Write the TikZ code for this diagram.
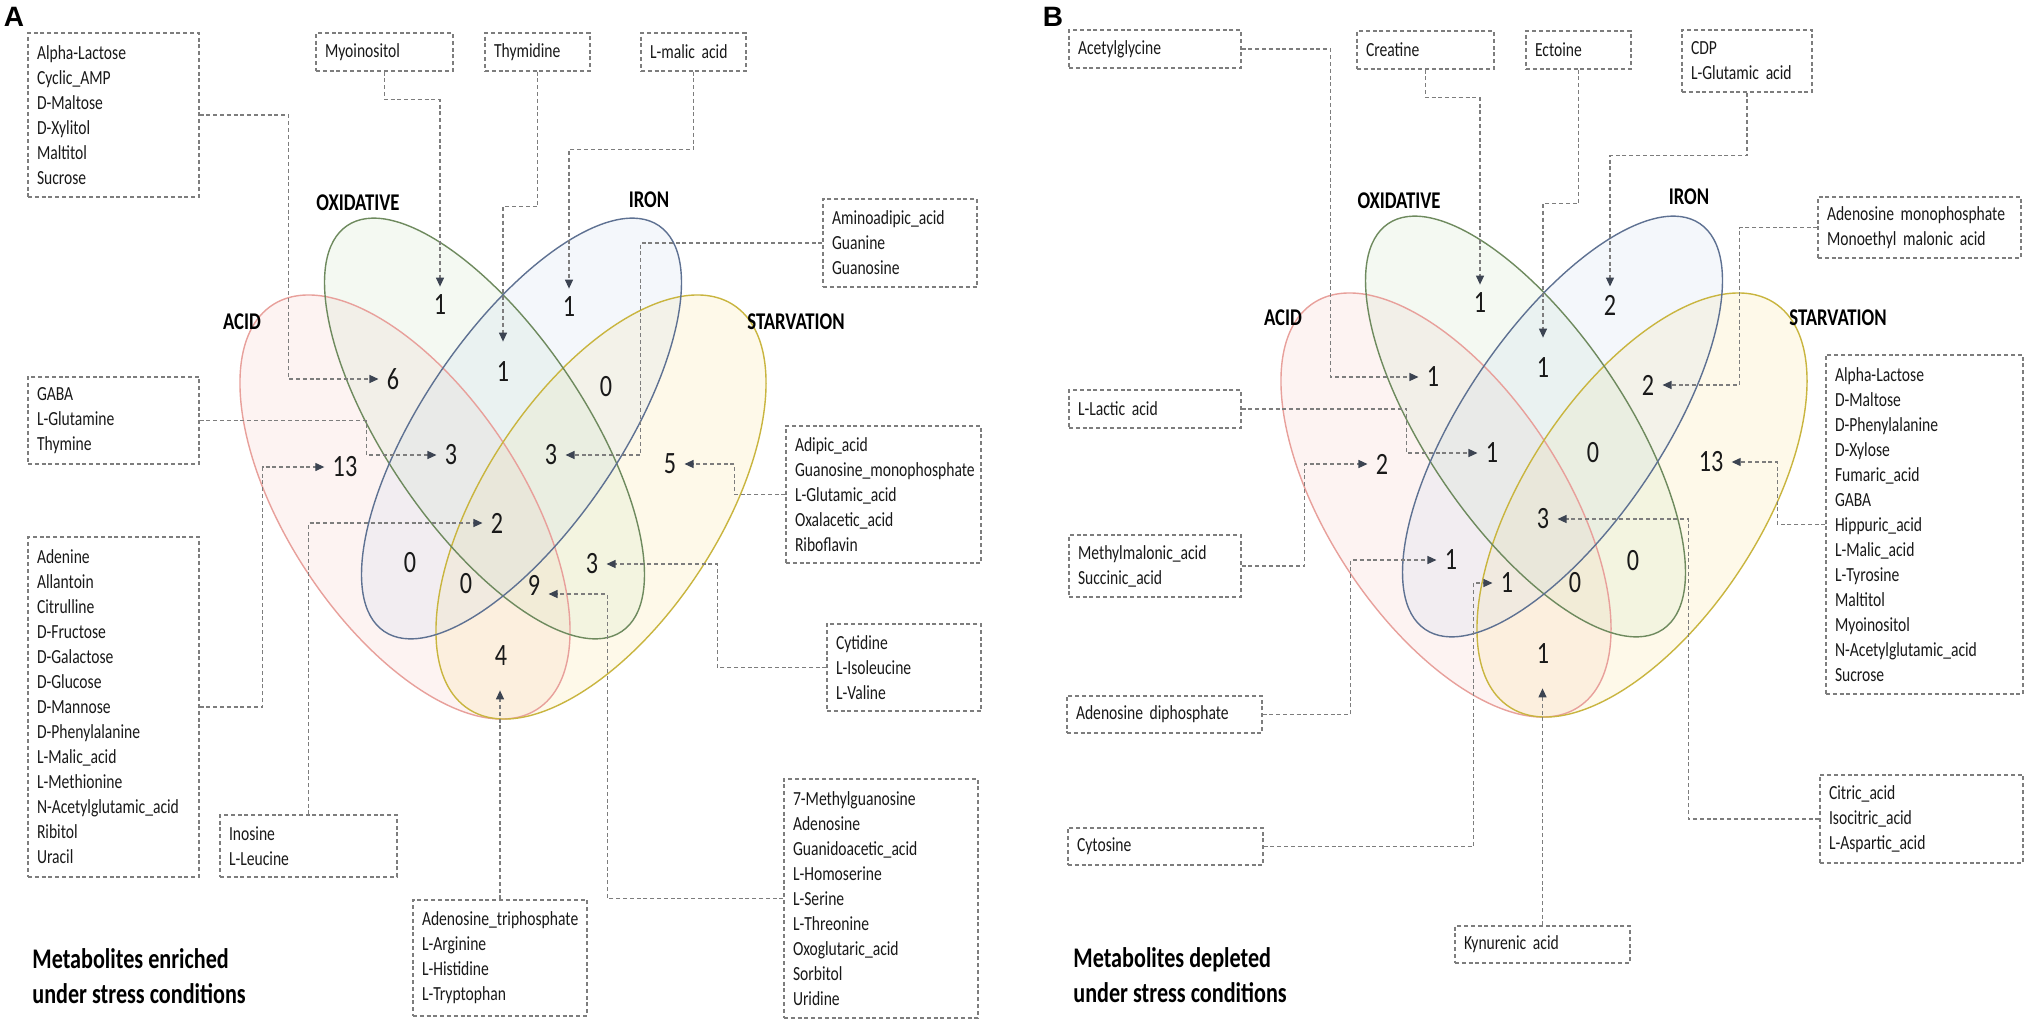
\documentclass[tikz,border=0pt]{standalone}
\usepackage{fontspec}
\setmainfont{Carlito}[FakeStretch=0.78]
\newfontfamily\panelfnt{Liberation Sans}
\usetikzlibrary{arrows.meta}
\definecolor{boxgray}{RGB}{125,125,125}
\definecolor{conngray}{RGB}{125,125,125}
\definecolor{arrowc}{RGB}{60,68,82}
\definecolor{txt}{RGB}{25,25,25}
\definecolor{acidF}{RGB}{245,185,175}
\definecolor{oxiF}{RGB}{190,222,180}
\definecolor{ironF}{RGB}{188,208,236}
\definecolor{starF}{RGB}{250,226,135}
\definecolor{acidS}{RGB}{232,160,155}
\definecolor{oxiS}{RGB}{110,138,94}
\definecolor{ironS}{RGB}{94,113,146}
\definecolor{starS}{RGB}{201,181,63}
\newcommand\mbfnt{\fontsize{10}{12.5}\selectfont}
\newcommand\numfnt{\fontsize{15.5}{18}\selectfont}
\newcommand\lblfnt{\fontsize{12}{14}\selectfont\bfseries}
\newcommand\ttlfnt{\fontsize{14.2}{17.5}\selectfont\bfseries}
\newcommand\vennshapes{%
  \fill[acidF, fill opacity=.16, rotate around={-56.7:(405,507)}] (405,507) ellipse [x radius=120.8pt, y radius=58.75pt];
  \fill[starF, fill opacity=.18, rotate around={56.7:(601,507)}] (601,507) ellipse [x radius=120.8pt, y radius=58.75pt];
  \fill[oxiF, fill opacity=.16, rotate around={-55.9:(484.5,428.5)}] (484.5,428.5) ellipse [x radius=122.5pt, y radius=49.5pt];
  \fill[ironF, fill opacity=.16, rotate around={55.9:(521.5,428.5)}] (521.5,428.5) ellipse [x radius=122.5pt, y radius=49.5pt];
  \draw[acidS, line width=.7pt, rotate around={-56.7:(405,507)}] (405,507) ellipse [x radius=120.8pt, y radius=58.75pt];
  \draw[starS, line width=.7pt, rotate around={56.7:(601,507)}] (601,507) ellipse [x radius=120.8pt, y radius=58.75pt];
  \draw[oxiS, line width=.7pt, rotate around={-55.9:(484.5,428.5)}] (484.5,428.5) ellipse [x radius=122.5pt, y radius=49.5pt];
  \draw[ironS, line width=.7pt, rotate around={55.9:(521.5,428.5)}] (521.5,428.5) ellipse [x radius=122.5pt, y radius=49.5pt];
}
\tikzset{
  mbox/.style={draw=boxgray, line width=0.6pt, dash pattern=on 2pt off 1.4pt, align=left,
    inner xsep=4.5pt, inner ysep=0pt, font=\mbfnt, text=txt},
  conn/.style={draw=conngray, line width=0.6pt, dash pattern=on 2pt off 1.4pt},
  arr/.style={conn, -{Triangle[length=4.5pt,width=4pt,color=arrowc]}},
  num/.style={font=\numfnt, inner sep=4pt, text=txt},
  setlbl/.style={font=\lblfnt, inner sep=0pt, text=black},
  ttl/.style={font=\ttlfnt, align=left, anchor=west, inner sep=0pt, text=black},
  panel/.style={font=\panelfnt\bfseries\fontsize{14}{16}\selectfont, inner sep=0pt, text=black}
}
\begin{document}
\begin{tikzpicture}[x=0.5pt,y=-0.5pt]
\useasboundingbox (0,0) rectangle (2030,1023);
\fill[white] (0,0) rectangle (2030,1023);

% ================= PANEL A =================
\vennshapes
\node[panel] (pA) at (14,17) {A};
\node[setlbl] (lAo) at (358,203) {OXIDATIVE};
\node[setlbl] (lAi) at (649,200) {IRON};
\node[setlbl] (lAa) at (242,322) {ACID};
\node[setlbl] (lAs) at (796,322) {STARVATION};

\node[num] (nA1o) at (440,305) {1};
\node[num] (nA1i) at (569,307) {1};
\node[num] (nA6) at (393,379) {6};
\node[num] (nA1oi) at (503,372) {1};
\node[num] (nA0is) at (606,387) {0};
\node[num] (nA13) at (345,467) {13};
\node[num] (nA3l) at (451,455) {3};
\node[num] (nA3r) at (551,455) {3};
\node[num] (nA5) at (670,464) {5};
\node[num] (nA2) at (497,523) {2};
\node[num] (nA0ai) at (410,563) {0};
\node[num] (nA0x) at (466,584) {0};
\node[num] (nA9) at (534,585) {9};
\node[num] (nA3b) at (592,564) {3};
\node[num] (nA4) at (501,656) {4};

\node[mbox, minimum width=85.5pt, minimum height=82pt, text width=76.5pt] (b1) at (113.5,115)
  {Alpha-Lactose\\Cyclic\_AMP\\D-Maltose\\D-Xylitol\\Maltitol\\Sucrose};
\node[mbox, minimum width=68.5pt, minimum height=19pt, text width=59.5pt] (myo) at (384.5,52) {Myoinositol};
\node[mbox, minimum width=52.5pt, minimum height=19pt, text width=43.5pt] (thy) at (537.5,52) {Thymidine};
\node[mbox, minimum width=52.5pt, minimum height=19pt, text width=43.5pt] (lmal) at (693.5,52) {L-malic acid};
\node[mbox, minimum width=77pt, minimum height=44pt, text width=68pt] (amino) at (900,243)
  {Aminoadipic\_acid\\Guanine\\Guanosine};
\node[mbox, minimum width=85.5pt, minimum height=43.5pt, text width=76.5pt] (gaba) at (113.5,420.5)
  {GABA\\L-Glutamine\\Thymine};
\node[mbox, minimum width=85.5pt, minimum height=170pt, text width=76.5pt] (aden) at (113.5,707)
  {Adenine\\Allantoin\\Citrulline\\D-Fructose\\D-Galactose\\D-Glucose\\D-Mannose\\D-Phenylalanine\\L-Malic\_acid\\L-Methionine\\N-Acetylglutamic\_acid\\Ribitol\\Uracil};
\node[mbox, minimum width=88.5pt, minimum height=31pt, text width=79.5pt] (ino) at (308.5,846)
  {Inosine\\L-Leucine};
\node[mbox, minimum width=87pt, minimum height=58pt, text width=78pt] (atp) at (500,958)
  {Adenosine\_triphosphate\\L-Arginine\\L-Histidine\\L-Tryptophan};
\node[mbox, minimum width=97.5pt, minimum height=68.5pt, text width=88.5pt] (adip) at (883.5,494.5)
  {Adipic\_acid\\Guanosine\_monophosphate\\L-Glutamic\_acid\\Oxalacetic\_acid\\Riboflavin};
\node[mbox, minimum width=77pt, minimum height=43.5pt, text width=68pt] (cyt) at (904,667.5)
  {Cytidine\\L-Isoleucine\\L-Valine};
\node[mbox, minimum width=97pt, minimum height=119.5pt, text width=88pt] (meth) at (881,898.5)
  {7-Methylguanosine\\Adenosine\\Guanidoacetic\_acid\\L-Homoserine\\L-Serine\\L-Threonine\\Oxoglutaric\_acid\\Sorbitol\\Uridine};

\node[ttl] (tA) at (32,976.5) {Metabolites enriched\\under stress conditions};

\draw[arr] (b1.east) -- ++(89,0) |- (nA6.west);
\draw[arr] (myo.south) -- ++(0,28) -| (nA1o.north);
\draw[arr, shorten >=6pt] (thy.south) -- ++(0,135) -| (nA1oi.north);
\draw[arr] (lmal.south) -- ++(0,78) -| (nA1i.north);
\draw[arr] (amino.west) -- ++(-182,0) |- (nA3r.east);
\draw[arr] (gaba.east) -- ++(167,0) |- (nA3l.west);
\draw[arr] (aden.east) -- ++(63,0) |- (nA13.west);
\draw[arr] (ino.north) |- (nA2.west);
\draw[arr, shorten >=8pt] (atp.north) -- (atp.north |- nA4.south);
\draw[arr] (meth.west) -- ++(-176,0) |- ([yshift=-4.5pt]nA9.east);
\draw[arr] (cyt.west) -- ++(-109,0) |- (nA3b.east);
\draw[arr] (adip.west) -- ++(-51,0) |- (nA5.east);

% ================= PANEL B =================
\begin{scope}[shift={(1041,-2)}]
\vennshapes
\end{scope}
\node[panel] (pB) at (1053,17) {B};
\node[setlbl] (lBo) at (1399,201) {OXIDATIVE};
\node[setlbl] (lBi) at (1689,197) {IRON};
\node[setlbl] (lBa) at (1283,318) {ACID};
\node[setlbl] (lBs) at (1838,318) {STARVATION};

\node[num] (nB1o) at (1480,303) {1};
\node[num] (nB2i) at (1610,305) {2};
\node[num] (nB1ao) at (1433,377) {1};
\node[num] (nB1oi) at (1543,368) {1};
\node[num] (nB2is) at (1648,385) {2};
\node[num] (nB2a) at (1382,464) {2};
\node[num] (nB1aoi) at (1492,453) {1};
\node[num] (nB0ois) at (1593,453) {0};
\node[num] (nB13) at (1711,462) {13};
\node[num] (nB3) at (1543,519) {3};
\node[num] (nB1ai) at (1451,560) {1};
\node[num] (nB1ais) at (1507,583) {1};
\node[num] (nB0x) at (1575,583) {0};
\node[num] (nB0os) at (1633,561) {0};
\node[num] (nB1as) at (1543,654) {1};

\node[mbox, minimum width=86pt, minimum height=19pt, text width=77pt] (acg) at (1155,49) {Acetylglycine};
\node[mbox, minimum width=68.5pt, minimum height=19pt, text width=59.5pt] (crea) at (1425.5,50) {Creatine};
\node[mbox, minimum width=52.5pt, minimum height=19pt, text width=43.5pt] (ect) at (1578.5,50) {Ectoine};
\node[mbox, minimum width=65pt, minimum height=31pt, text width=56pt] (cdp) at (1747,61) {CDP\\L-Glutamic acid};
\node[mbox, minimum width=101.5pt, minimum height=30.5pt, text width=92.5pt] (amp) at (1919.5,227.5)
  {Adenosine monophosphate\\Monoethyl malonic acid};
\node[mbox, minimum width=98.5pt, minimum height=169.5pt, text width=89.5pt] (alb) at (1924.5,524.5)
  {Alpha-Lactose\\D-Maltose\\D-Phenylalanine\\D-Xylose\\Fumaric\_acid\\GABA\\Hippuric\_acid\\L-Malic\_acid\\L-Tyrosine\\Maltitol\\Myoinositol\\N-Acetylglutamic\_acid\\Sucrose};
\node[mbox, minimum width=101.5pt, minimum height=44pt, text width=92.5pt] (citr) at (1921.5,819)
  {Citric\_acid\\Isocitric\_acid\\L-Aspartic\_acid};
\node[mbox, minimum width=87.5pt, minimum height=18.5pt, text width=78.5pt] (kyn) at (1542.5,944.5) {Kynurenic acid};
\node[mbox, minimum width=97.5pt, minimum height=18.5pt, text width=88.5pt] (cyto) at (1165.5,846.5) {Cytosine};
\node[mbox, minimum width=97.5pt, minimum height=18.5pt, text width=88.5pt] (adp) at (1164.5,714.5) {Adenosine diphosphate};
\node[mbox, minimum width=86pt, minimum height=31pt, text width=77pt] (mma) at (1155,566)
  {Methylmalonic\_acid\\Succinic\_acid};
\node[mbox, minimum width=86pt, minimum height=19pt, text width=77pt] (lac) at (1155,409) {L-Lactic acid};

\node[ttl] (tB) at (1073,975.5) {Metabolites depleted\\under stress conditions};

\draw[arr] (acg.east) -- ++(89,0) |- (nB1ao.west);
\draw[arr] (crea.south) -- ++(0,28) -| (nB1o.north);
\draw[arr, shorten >=6pt] (ect.south) -- ++(0,134) -| (nB1oi.north);
\draw[arr] (cdp.south) -- ++(0,63) -| (nB2i.north);
\draw[arr] (amp.west) -- ++(-78,0) |- (nB2is.east);
\draw[arr] (alb.west) -- ++(-48,0) |- (nB13.east);
\draw[arr] (citr.west) -- ++(-131,0) |- (nB3.east);
\draw[arr, shorten >=8pt] (kyn.north) -- (kyn.north |- nB1as.south);
\draw[arr] (cyto.east) -- ++(210,0) |- (nB1ais.west);
\draw[arr] (adp.east) -- ++(88,0) |- (nB1ai.west);
\draw[arr] (mma.east) -- ++(63,0) |- (nB2a.west);
\draw[arr] (lac.east) -- ++(165,0) |- (nB1aoi.west);
\end{tikzpicture}
\end{document}
